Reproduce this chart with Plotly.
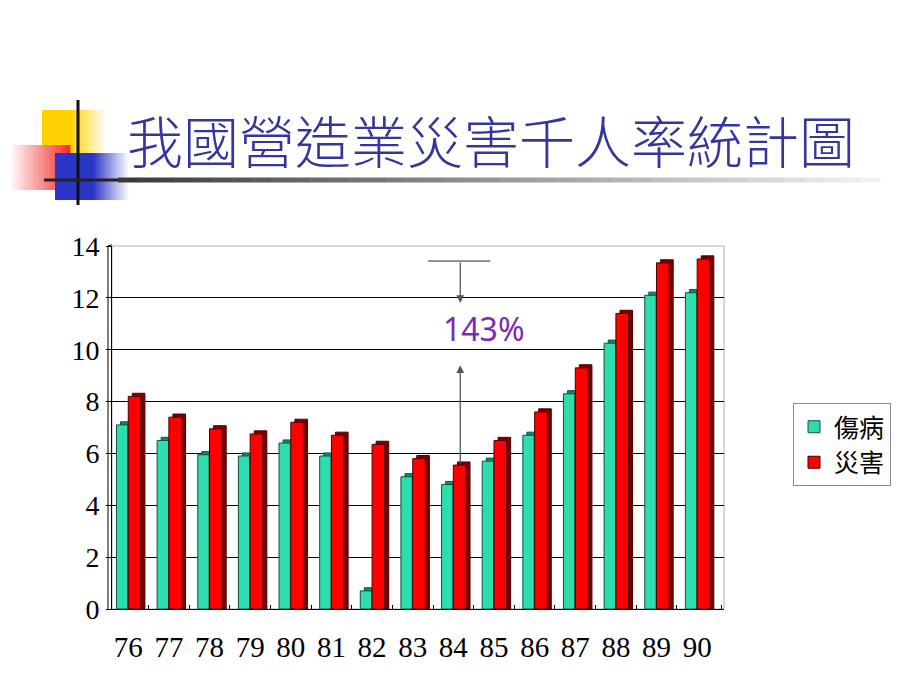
import plotly.graph_objects as go

years = [76, 77, 78, 79, 80, 81, 82, 83, 84, 85, 86, 87, 88, 89, 90]
year_labels = [str(y) for y in years]
injury = [7.1, 6.5, 5.95, 5.9, 6.4, 5.9, 0.7, 5.1, 4.8, 5.7, 6.7, 8.3, 10.25, 12.1, 12.2]
disaster = [8.2, 7.4, 6.95, 6.75, 7.2, 6.7, 6.35, 5.8, 5.55, 6.5, 7.6, 9.3, 11.4, 13.35, 13.5]
series_names = ["傷病", "災害"]
title_text = "我國營造業災害千人率統計圖"
note_text = "143%"
y_ticks = [0, 2, 4, 6, 8, 10, 12, 14]

W, H = 920, 690
L, R, T, B = 112, 724, 246, 609

def px(x):
    return (x - L) / (R - L)

def py(y):
    return (B - y) / (B - T)

depth_y = 0.12
depth_x = 0.1
green, green_side, green_edge = "#2EDDAE", "#13876A", "#0B5440"
red, red_side, red_edge = "#FF0000", "#7A0000", "#4A0000"

fig = go.Figure()
fig.add_trace(go.Bar(x=years, y=[v + depth_y for v in injury], offset=-0.29 + depth_x, width=0.28,
                     marker=dict(color=green_side, line=dict(color=green_edge, width=1)),
                     showlegend=False, hoverinfo="skip"))
fig.add_trace(go.Bar(x=years, y=injury, offset=-0.29, width=0.28, name=series_names[0],
                     marker=dict(color=green, line=dict(color=green_edge, width=1))))
fig.add_trace(go.Bar(x=years, y=[v + depth_y for v in disaster], offset=0.0 + depth_x, width=0.31,
                     marker=dict(color=red_side, line=dict(color=red_edge, width=1)),
                     showlegend=False, hoverinfo="skip"))
fig.add_trace(go.Bar(x=years, y=disaster, offset=0.0, width=0.31, name=series_names[1],
                     marker=dict(color=red, line=dict(color=red_edge, width=1))))

shapes = []
shapes.append(dict(type="rect", xref="paper", yref="paper", x0=0, x1=1, y0=0, y1=1,
                   line=dict(color="#B0B0B0", width=1), layer="below"))
shapes.append(dict(type="line", xref="paper", yref="paper", x0=px(108), x1=px(108), y0=0, y1=1,
                   line=dict(color="#000", width=1)))
shapes.append(dict(type="line", xref="paper", yref="paper", x0=px(108), x1=0, y0=1, y1=1.003,
                   line=dict(color="#000", width=1)))

def hex_mix(c1, c2, t):
    a = [int(c1[i:i + 2], 16) for i in (1, 3, 5)]
    b = [int(c2[i:i + 2], 16) for i in (1, 3, 5)]
    return "#" + "".join(f"{round(a[k] + (b[k] - a[k]) * t):02x}" for k in range(3))

def grad_rect(x0, x1, y0, y1, c_left, c_right, n=24):
    out = []
    step = (x1 - x0) / n
    for i in range(n):
        t = i / (n - 1) if n > 1 else 0
        out.append(dict(type="rect", xref="paper", yref="paper",
                        x0=px(x0 + i * step), x1=px(x0 + (i + 1) * step + 0.5),
                        y0=py(y1), y1=py(y0), line=dict(width=0),
                        fillcolor=hex_mix(c_left, c_right, t)))
    return out

# decorative logo
shapes += grad_rect(42, 70, 110, 153, "#FFD200", "#FFD200", n=2)
shapes += grad_rect(70, 104, 110, 153, "#FFD200", "#FFFBEA", n=16)
shapes += grad_rect(12, 70, 145, 190, "#FFF2F2", "#F43030", n=24)
shapes += grad_rect(55, 92, 153, 200, "#2B35C8", "#2B35C8", n=2)
shapes += grad_rect(92, 128, 153, 200, "#2B35C8", "#F4F5FF", n=18)
shapes.append(dict(type="line", xref="paper", yref="paper", x0=px(78), x1=px(78), y0=py(100), y1=py(205),
                   line=dict(color="#111", width=3)))
shapes.append(dict(type="line", xref="paper", yref="paper", x0=px(44), x1=px(120), y0=py(180), y1=py(180),
                   line=dict(color="#222", width=3)))
n_seg = 40
x_a, x_b = 118, 880
for i in range(n_seg):
    t = i / (n_seg - 1)
    xs = x_a + (x_b - x_a) * i / n_seg
    xe = x_a + (x_b - x_a) * (i + 1) / n_seg + 0.5
    shapes.append(dict(type="line", xref="paper", yref="paper", x0=px(xs), x1=px(xe), y0=py(180), y1=py(180),
                       line=dict(color=hex_mix("#3a3a3a", "#f2f2f2", t), width=5)))

x_arrow = 84.17
shapes.append(dict(type="line", xref="x", yref="y", x0=83.38, x1=84.91, y0=13.42, y1=13.42,
                   line=dict(color="#222", width=1)))

annotations = [
    dict(x=x_arrow, y=11.8, ax=x_arrow, ay=13.42, xref="x", yref="y", axref="x", ayref="y",
         text="", showarrow=True, arrowhead=2, arrowsize=1.2, arrowwidth=1.3, arrowcolor="#555"),
    dict(x=x_arrow, y=9.4, ax=x_arrow, ay=disaster[years.index(84)], xref="x", yref="y", axref="x", ayref="y",
         text="", showarrow=True, arrowhead=2, arrowsize=1.2, arrowwidth=1.3, arrowcolor="#555"),
    dict(x=84.75, y=10.8, xref="x", yref="y", text=note_text, showarrow=False,
         font=dict(family="Noto Sans, DejaVu Sans", size=32, color="#7A2BB0")),
]

fig.update_layout(
    width=W, height=H,
    margin=dict(l=L, r=W - R, t=T, b=H - B),
    paper_bgcolor="white", plot_bgcolor="white",
    barmode="overlay",
    title=dict(text=title_text, x=491 / W, y=1 - 143 / H, xanchor="center", yanchor="middle",
               font=dict(family="Noto Sans CJK TC", size=56, color="#34369A", weight=300)),
    xaxis=dict(range=[75.6, 90.66], tickmode="array", tickvals=years, ticktext=year_labels,
               ticks="", showgrid=False, zeroline=False, showline=True, linecolor="#000", linewidth=1,
               tickfont=dict(family="Liberation Serif", size=29, color="#000"), ticklabelstandoff=12,
               minor=dict(tickmode="array", tickvals=[y + 0.5 for y in years[:-1]] + [90.6],
                          ticks="inside", ticklen=4, tickcolor="#000")),
    yaxis=dict(range=[0, 14], tickmode="array", tickvals=y_ticks, ticks="outside", ticklen=5,
               tickcolor="#000", showgrid=True, gridcolor="#000", gridwidth=1, zeroline=False,
               showline=True, linecolor="#000", linewidth=1,
               tickfont=dict(family="Liberation Serif", size=28, color="#000"), ticklabelstandoff=1),
    legend=dict(x=px(793), y=py(403), xanchor="left", yanchor="top",
                font=dict(family="Noto Sans CJK TC", size=25, color="#000"),
                bordercolor="#888", borderwidth=1, bgcolor="white", traceorder="normal",
                itemwidth=30, tracegroupgap=8),
    shapes=shapes,
    annotations=annotations,
    showlegend=True,
)

fig.write_html("out.html")
